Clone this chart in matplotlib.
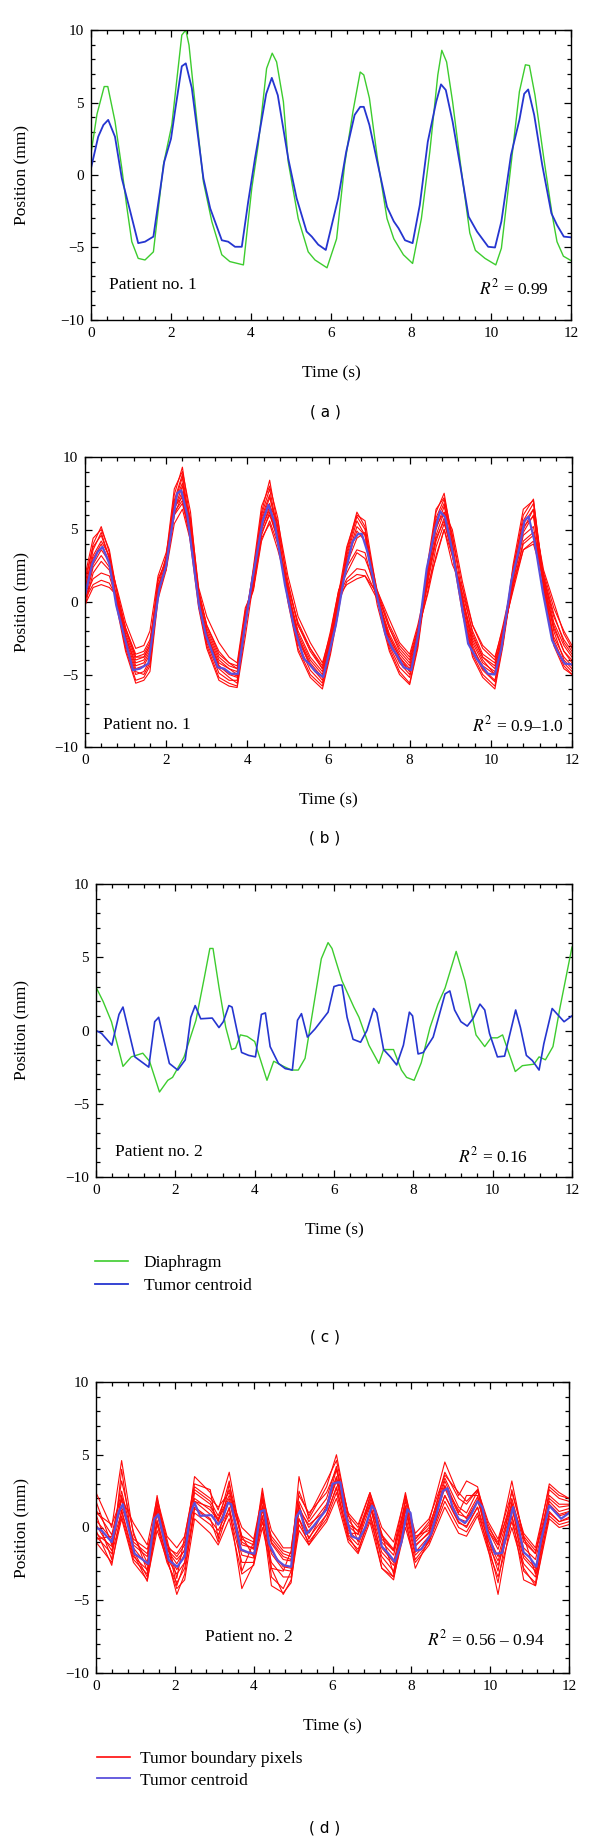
import matplotlib
matplotlib.use('Agg')
import matplotlib.pyplot as plt
from matplotlib.lines import Line2D
from matplotlib.ticker import MultipleLocator

plt.rcParams['font.family'] = ['Liberation Serif', 'DejaVu Serif']
plt.rcParams['mathtext.fontset'] = 'stix'

# Patient 1: diaphragm (green) and tumor centroid (blue)
p1_diaph_t = [0, 0.15, 0.33, 0.42, 0.6, 0.77, 0.89, 1.02, 1.18, 1.35, 1.56, 1.81, 2.02, 2.27, 2.37, 2.45,
              2.56, 2.81, 3.02, 3.27, 3.47, 3.81, 4.02, 4.18, 4.39, 4.53, 4.64, 4.81, 4.93, 5.18, 5.43,
              5.6, 5.9, 6.14, 6.34, 6.55, 6.73, 6.82, 6.96, 7.16, 7.4, 7.57, 7.81, 8.04, 8.26, 8.47, 8.67,
              8.77, 8.89, 9.04, 9.24, 9.47, 9.61, 9.85, 10.12, 10.26, 10.5, 10.71, 10.86, 10.96, 11.1,
              11.32, 11.53, 11.65, 11.81, 12.0]
p1_diaph_y = [1.5, 4.2, 6.1, 6.1, 3.7, 0.46, -2.1, -4.6, -5.75, -5.86, -5.3, 0.7, 3.45, 9.65, 10.0, 8.96,
              6.0, -0.46, -3.2, -5.5, -5.97, -6.2, -0.9, 2.07, 7.35, 8.4, 7.8, 5.05, 0.92, -3.0, -5.3,
              -5.86, -6.4, -4.4, 0.7, 4.4, 7.1, 6.9, 5.3, 1.15, -3.0, -4.4, -5.5, -6.1, -3.0, 1.6, 6.9,
              8.6, 7.8, 5.05, 0.7, -4.0, -5.2, -5.75, -6.2, -5.05, 0.7, 5.75, 7.6, 7.55, 5.5,
              1.15, -2.76, -4.6, -5.6, -5.9]

p1_cent_t = [0, 0.18, 0.31, 0.43, 0.6, 0.77, 0.98, 1.18, 1.35, 1.56, 1.83, 2.0, 2.1, 2.27, 2.37, 2.52,
             2.81, 2.98, 3.27, 3.43, 3.6, 3.77, 3.93, 4.1, 4.38, 4.52, 4.67, 4.93, 5.14, 5.39, 5.52,
             5.68, 5.87, 6.18, 6.38, 6.59, 6.73, 6.82, 6.96, 7.12, 7.4, 7.57, 7.69, 7.85, 8.04, 8.22,
             8.42, 8.63, 8.75, 8.87, 9.04, 9.24, 9.44, 9.65, 9.93, 10.1, 10.26, 10.5, 10.71, 10.83,
             10.93, 11.08, 11.28, 11.51, 11.65, 11.82, 12.0]
p1_cent_y = [0.46, 2.64, 3.45, 3.8, 2.64, -0.23, -2.5, -4.7, -4.6, -4.25, 0.9, 2.5, 4.4, 7.5, 7.7, 6.0,
             -0.23, -2.3, -4.5, -4.6, -4.95, -4.95, -1.84, 1.15, 5.6, 6.7, 5.5, 1.15, -1.6, -3.9, -4.25,
             -4.8, -5.17, -1.6, 1.6, 4.14, 4.7, 4.7, 3.45, 1.38, -2.2, -3.2, -3.68, -4.5, -4.7, -2.07,
             2.3, 5.05, 6.25, 5.86, 3.68, 0.46, -2.87, -3.9, -4.95, -5.0, -3.2, 1.38, 3.8, 5.6,
             5.9, 4.14, 0.7, -2.64, -3.45, -4.25, -4.3]

# Patient 1: tumor boundary pixels (red)
p1_pix_t = [0, 0.2, 0.4, 0.6, 0.8, 1.0, 1.25, 1.45, 1.6, 1.8, 2.0, 2.2, 2.4, 2.6, 2.8, 3.0, 3.3, 3.55,
            3.75, 3.95, 4.15, 4.35, 4.55, 4.75, 5.0, 5.25, 5.55, 5.85, 6.05, 6.25, 6.45, 6.7, 6.9, 7.2,
            7.5, 7.75, 8.0, 8.2, 8.45, 8.65, 8.85, 9.05, 9.3, 9.55, 9.8, 10.1, 10.3, 10.55, 10.8, 11.05,
            11.3, 11.55, 11.8, 12.0]
p1_pix = [
    [1.2, 4.0, 5.2, 3.4, -0.2, -3.2, -5.4, -5.2, -4.4, 0.4, 3.0, 7.4, 9.3, 5.5, -0.2, -3.0, -5.2, -5.6,
     -5.8, -1.8, 2.0, 6.2, 8.4, 5.2, 0.2, -3.2, -5.0, -5.8, -3.4, 0.0, 3.6, 6.2, 5.2, 0.2, -3.2, -4.8,
     -5.6, -3.0, 2.4, 6.2, 7.5, 4.2, -0.6, -3.6, -5.0, -5.8, -2.8, 2.2, 6.0, 7.1, 1.2, -2.8, -4.4, -5.0],
    [0.8, 3.6, 4.8, 3.0, -0.4, -3.0, -5.0, -4.8, -4.0, 0.8, 2.8, 7.0, 8.8, 5.0, 0.0, -2.8, -4.9, -5.4,
     -5.4, -1.2, 2.2, 6.0, 7.8, 4.8, 0.4, -2.9, -4.7, -5.6, -3.0, 0.2, 3.4, 5.9, 5.0, 0.4, -3.0, -4.5,
     -5.2, -2.7, 2.6, 5.8, 7.1, 4.0, -0.4, -3.4, -4.7, -5.5, -2.6, 2.4, 5.6, 6.8, 1.4, -2.6, -4.2, -4.8],
    [0.4, 2.6, 3.6, 2.8, 0.8, -1.4, -3.2, -3.0, -2.0, 1.8, 3.4, 6.4, 7.6, 5.8, 1.0, -1.0, -2.8, -3.8,
     -4.2, -0.4, 0.9, 5.0, 6.6, 5.6, 1.8, -1.0, -2.8, -4.2, -2.2, 0.8, 2.6, 4.4, 4.8, 0.8, -1.2, -2.8,
     -3.6, -1.6, 1.6, 4.6, 6.2, 5.0, 1.4, -1.6, -3.2, -4.0, -1.6, 1.6, 4.8, 6.0, 2.2, 0.0, -2.2, -3.2],
    [-0.2, 1.0, 1.2, 1.0, 0.4, -1.8, -3.6, -3.4, -2.6, 0.6, 2.4, 6.0, 6.8, 4.4, 0.6, -1.6, -3.6, -4.2,
     -4.4, -0.8, 0.8, 4.2, 5.6, 4.0, 1.2, -1.6, -3.4, -4.6, -2.4, 0.4, 1.2, 1.6, 1.8, 0.6, -1.8, -3.2,
     -4.0, -2.0, 0.6, 3.2, 5.0, 3.2, 0.6, -2.0, -3.6, -4.2, -2.0, 0.8, 3.6, 4.0, 1.6, -1.0, -2.6, -3.4],
    [0.2, 1.2, 1.5, 1.3, 0.2, -2.2, -4.0, -3.8, -3.0, 0.8, 2.6, 6.6, 7.2, 4.6, 0.2, -2.0, -4.0, -4.6,
     -4.8, -1.0, 1.0, 4.8, 6.0, 4.4, 0.8, -2.0, -3.8, -4.8, -2.6, 0.4, 1.6, 2.3, 2.2, 0.4, -2.2, -3.6,
     -4.4, -2.2, 0.8, 3.8, 5.4, 3.6, 0.2, -2.4, -3.8, -4.6, -2.2, 1.0, 4.2, 4.8, 1.8, -1.4, -3.0, -3.8],
    [0.6, 3.0, 4.0, 2.8, -0.3, -2.6, -4.6, -4.4, -3.6, 0.8, 2.6, 6.4, 8.0, 4.8, 0.0, -2.4, -4.4, -4.9,
     -5.1, -1.4, 1.8, 5.3, 6.8, 4.4, 0.4, -2.6, -4.4, -5.2, -2.9, -0.2, 2.8, 4.9, 4.2, 0.3, -2.6, -4.0,
     -4.8, -2.4, 2.3, 5.2, 6.2, 3.8, -0.2, -3.2, -4.4, -5.0, -2.4, 2.0, 5.2, 5.9, 1.0, -2.4, -3.8, -4.4],
    [1.6, 3.8, 4.6, 3.0, -0.6, -3.4, -5.6, -5.4, -4.8, 0.2, 2.2, 6.8, 8.6, 4.0, -0.4, -3.2, -5.4, -5.8,
     -5.9, -2.4, 1.4, 5.8, 7.4, 4.6, 0.0, -3.4, -5.2, -6.0, -3.6, -0.6, 3.2, 5.6, 4.6, -0.2, -3.4, -5.0,
     -5.7, -3.2, 2.0, 5.6, 6.8, 3.4, -0.8, -3.8, -5.2, -6.0, -3.0, 1.8, 5.4, 6.4, 0.8, -3.0, -4.6, -5.0],
    [-0.3, 2.0, 2.8, 2.2, 0.2, -2.0, -3.8, -3.6, -2.8, 1.2, 2.2, 5.4, 6.4, 4.2, 0.8, -1.8, -3.8, -4.4,
     -4.6, -0.6, 1.0, 4.4, 5.4, 3.6, 1.0, -1.4, -3.2, -4.4, -2.0, 0.8, 2.0, 3.4, 3.0, 0.8, -1.6, -3.0,
     -3.8, -1.8, 1.2, 3.0, 5.0, 2.6, 1.0, -1.6, -3.0, -3.8, -1.8, 1.2, 3.6, 4.2, 2.0, -0.4, -2.0, -3.0],
    [1.8, 4.4, 5.0, 3.6, 0.4, -2.8, -4.8, -5.0, -4.2, 1.0, 3.2, 7.8, 9.0, 6.2, 0.6, -2.6, -4.6, -5.2,
     -5.6, -1.6, 2.4, 6.6, 8.0, 5.8, 0.8, -2.4, -4.4, -5.4, -3.2, 0.6, 3.8, 6.0, 5.6, 0.6, -2.8, -4.2,
     -5.0, -2.8, 2.8, 6.4, 7.2, 4.6, 0.4, -3.0, -4.6, -5.4, -2.8, 2.6, 6.4, 7.0, 1.6, -2.0, -4.0, -4.6],
    [0.0, 2.4, 3.2, 2.4, -0.2, -2.4, -4.2, -4.0, -3.2, 1.6, 2.8, 6.2, 7.0, 4.4, 0.2, -2.2, -4.2, -4.6,
     -5.0, -1.0, 1.4, 4.6, 6.2, 4.2, 0.6, -2.2, -4.0, -5.0, -2.6, 0.2, 2.4, 3.6, 3.4, 0.2, -2.4, -3.8,
     -4.6, -2.6, 1.8, 4.4, 5.6, 3.2, 0.0, -2.8, -4.2, -4.8, -2.6, 1.4, 4.6, 5.2, 1.2, -1.8, -3.4, -4.2],
    [1.0, 3.2, 4.2, 3.2, 0.6, -1.8, -3.8, -3.8, -3.0, 1.4, 3.0, 6.8, 8.2, 5.4, 0.8, -1.6, -3.4, -4.2,
     -4.6, -0.8, 1.6, 5.6, 7.2, 5.2, 1.4, -1.6, -3.2, -4.6, -2.4, 0.6, 3.0, 5.2, 4.6, 0.6, -1.8, -3.4,
     -4.2, -2.0, 2.0, 5.0, 6.6, 4.6, 1.0, -2.2, -3.8, -4.4, -2.0, 1.8, 5.0, 6.4, 1.8, -0.8, -2.8, -3.6],
    [0.3, 1.6, 2.0, 1.8, 0.0, -2.4, -4.4, -4.2, -3.4, 0.4, 2.4, 6.0, 7.4, 4.6, 0.4, -2.2, -4.4, -5.0,
     -5.2, -1.2, 1.2, 5.0, 6.4, 4.4, 0.6, -2.4, -4.2, -5.2, -2.8, 0.0, 1.4, 1.9, 1.8, 0.2, -2.4, -3.8,
     -4.8, -2.4, 1.4, 4.2, 5.8, 3.4, 0.2, -2.6, -4.0, -5.0, -2.4, 1.2, 4.0, 4.6, 1.4, -1.6, -3.4, -4.0],
]

# Patient 2: diaphragm (green) and tumor centroid (blue)
p2_diaph_t = [0, 0.18, 0.39, 0.68, 0.89, 1.18, 1.35, 1.6, 1.81, 1.93, 2.22, 2.52, 2.73, 2.87, 2.95, 3.1,
              3.27, 3.42, 3.52, 3.64, 3.81, 4.0, 4.31, 4.48, 4.73, 4.93, 5.1, 5.27, 5.68, 5.85, 5.95,
              6.2, 6.5, 6.63, 6.88, 7.13, 7.25, 7.5, 7.7, 7.83, 8.02, 8.2, 8.42, 8.62, 8.8, 9.08, 9.3,
              9.58, 9.8, 9.96, 10.12, 10.25, 10.57, 10.75, 11.04, 11.17, 11.33, 11.52, 11.7, 12.0]
p2_diaph_y = [2.96, 1.98, 0.6, -2.45, -1.8, -1.55, -2.1, -4.2, -3.4, -3.2, -1.8, 0.7, 3.6, 5.6, 5.6, 2.96,
              0.23, -1.3, -1.2, -0.3, -0.4, -0.75, -3.4, -2.1, -2.45, -2.7, -2.7, -1.9, 4.9, 6.0, 5.6,
              3.4, 1.6, 0.9, -1.0, -2.25, -1.3, -1.3, -2.7, -3.2, -3.4, -2.2, 0.2, 1.8, 2.9, 5.4, 3.4,
              -0.3, -1.1, -0.5, -0.5, -0.3, -2.8, -2.4, -2.3, -1.8, -2.0, -1.1, 1.6, 5.7]

p2_cent_t = [0, 0.14, 0.4, 0.58, 0.68, 0.98, 1.18, 1.33, 1.48, 1.58, 1.85, 2.06, 2.25, 2.39, 2.5, 2.64,
             2.93, 3.1, 3.21, 3.35, 3.43, 3.67, 3.85, 4.02, 4.17, 4.27, 4.39, 4.6, 4.77, 4.95, 5.08,
             5.18, 5.33, 5.52, 5.85, 6.0, 6.12, 6.2, 6.33, 6.48, 6.67, 6.83, 7.0, 7.08, 7.25, 7.42,
             7.58, 7.75, 7.9, 7.98, 8.12, 8.25, 8.5, 8.8, 8.92, 9.04, 9.2, 9.36, 9.5, 9.68, 9.8, 9.92,
             10.12, 10.3, 10.58, 10.7, 10.85, 11.0, 11.17, 11.29, 11.5, 11.7, 11.8, 12.0]
p2_cent_y = [0, -0.2, -1.0, 1.1, 1.6, -1.8, -2.2, -2.5, 0.6, 0.9, -2.25, -2.7, -2.0, 0.9, 1.7, 0.8,
             0.85, 0.2, 0.6, 1.7, 1.6, -1.5, -1.7, -1.8, 1.1, 1.2, -1.1, -2.25, -2.6, -2.7, 0.7,
             1.15, -0.45, 0.1, 1.25, 3.0, 3.1, 3.1, 0.9, -0.6, -0.8, 0, 1.5, 1.2, -1.3, -1.8,
             -2.35, -1.0, 1.25, 1.0, -1.6, -1.5, -0.45, 2.5, 2.7, 1.4, 0.6, 0.3, 0.8, 1.8, 1.4, -0.2,
             -1.8, -1.75, 1.4, 0.2, -1.7, -2.05, -2.7, -0.9, 1.5, 0.9, 0.6, 1.0]

# Patient 2: tumor boundary pixels (red)
p2_pix_t = [0, 0.4, 0.65, 0.95, 1.3, 1.55, 1.8, 2.05, 2.25, 2.5, 2.9, 3.1, 3.38, 3.7, 4.0, 4.22, 4.45,
            4.75, 4.95, 5.15, 5.4, 5.85, 6.1, 6.4, 6.65, 6.95, 7.25, 7.55, 7.85, 8.1, 8.45, 8.85, 9.2,
            9.4, 9.68, 9.95, 10.2, 10.55, 10.85, 11.15, 11.5, 11.75, 12.0]
p2_pix = [
    [1.2, -0.5, 2.5, -1.0, -1.8, 1.6, -1.2, -2.0, -1.2, 2.6, 1.8, 0.8, 2.6, -0.8, -1.2, 2.0, -0.8, -1.8,
     -2.0, 1.8, 0.4, 2.0, 4.2, 0.5, -0.3, 2.0, -0.8, -1.6, 1.8, -1.0, 0.0, 3.4, 1.4, 1.0, 2.5, 0.2, -1.2,
     2.0, -1.0, -1.8, 2.2, 1.6, 1.6],
    [-0.6, -1.8, 0.8, -2.2, -3.2, 0.2, -2.4, -3.8, -2.8, 1.0, 0.2, -0.5, 1.0, -2.4, -2.4, 0.4, -2.4, -3.4,
     -3.4, 0.2, -1.0, 0.6, 2.4, -0.8, -1.5, 0.6, -2.0, -3.0, 0.4, -2.2, -1.0, 1.8, 0.0, -0.3, 1.0, -1.2,
     -2.6, 0.4, -2.5, -3.4, 0.8, 0.2, 0.4],
    [2.4, 0.0, 4.6, -0.5, -2.4, 2.2, -1.5, -2.5, -1.5, 3.5, 2.4, 1.2, 3.8, -1.0, -1.5, 2.7, -1.0, -2.0,
     -2.2, 3.5, 0.6, 2.8, 5.0, 0.8, 0.0, 2.4, -0.5, -1.5, 2.4, -0.8, 0.4, 4.5, 2.2, 3.2, 2.8, -0.2, -1.2,
     3.2, -0.8, -1.8, 3.0, 2.4, 2.0],
    [-0.2, -2.6, 1.2, -1.8, -3.7, 0.4, -2.0, -4.6, -3.2, 1.4, 0.6, -1.0, 1.4, -4.2, -2.5, 0.8, -4.0, -4.5,
     -3.8, 0.6, -1.2, 0.9, 2.8, -0.6, -1.7, 1.0, -2.8, -3.6, 0.6, -2.8, -0.8, 2.2, 0.4, 0.0, 1.4, -1.5,
     -4.6, 0.8, -3.6, -4.0, 1.0, 0.4, 0.6],
    [0.5, -0.8, 1.9, -1.2, -2.0, 1.2, -1.5, -2.2, -1.6, 2.0, 1.2, 0.5, 2.0, -1.2, -1.4, 1.5, -1.1, -2.2,
     -2.3, 1.4, 0.0, 1.6, 3.5, 0.1, -0.5, 1.6, -1.0, -1.9, 1.4, -1.3, -0.3, 2.9, 0.9, 0.7, 2.1, -0.2,
     -1.5, 1.5, -1.4, -2.2, 1.8, 1.1, 1.3],
    [-0.4, -1.3, 1.1, -2.0, -2.9, 0.5, -2.1, -3.2, -2.4, 1.3, 0.5, -0.2, 1.3, -1.9, -2.1, 0.8, -1.8, -2.9,
     -3.0, 0.6, -0.7, 0.9, 2.7, -0.5, -1.2, 0.9, -1.7, -2.6, 0.8, -1.9, -0.9, 2.2, 0.3, 0.1, 1.4, -0.9,
     -2.3, 0.8, -2.1, -3.0, 1.1, 0.4, 0.7],
    [1.8, -1.2, 3.2, -0.3, -3.0, 1.8, -0.8, -3.5, -0.6, 3.0, 2.6, -0.8, 3.0, -0.6, -2.0, 2.4, -2.8, -3.0,
     -1.6, 2.5, 0.8, 3.2, 4.6, 0.9, -1.0, 2.2, -0.4, -3.2, 2.0, -0.6, -0.2, 3.8, 2.0, 1.6, 2.6, -0.8,
     -3.0, 2.6, -0.6, -3.2, 2.6, 2.0, 1.8],
    [0.9, -2.2, 4.0, -1.6, -3.4, 1.4, -1.0, -4.0, -2.4, 2.4, 1.6, 0.4, 3.2, -3.0, -1.0, 1.9, -3.4, -4.2,
     -3.0, 1.6, -0.8, 1.5, 4.0, -0.4, -0.4, 1.8, -2.4, -3.4, 1.2, -1.2, -0.4, 3.2, 1.0, 2.2, 2.2, -1.2,
     -3.8, 1.8, -3.0, -3.8, 2.0, 1.4, 1.5],
    [-0.8, -0.6, 1.4, -0.8, -1.5, 1.0, -1.4, -1.8, -1.0, 1.8, 1.4, 0.6, 2.2, -0.6, -1.0, 1.4, -0.6, -1.6,
     -1.8, 1.2, 0.2, 1.2, 3.4, 0.2, -0.2, 1.5, -0.6, -1.6, 1.5, -0.8, 0.2, 2.8, 1.2, 0.6, 1.8, 0.0, -1.0,
     1.6, -0.6, -1.6, 1.5, 0.8, 1.0],
    [0.2, -1.6, 2.2, -1.4, -2.6, 0.9, -1.7, -2.9, -1.8, 1.8, 0.9, 0.2, 1.8, -1.6, -1.9, 1.2, -1.6, -2.7,
     -2.8, 1.1, -0.4, 1.3, 3.2, -0.2, -0.9, 1.4, -1.4, -2.4, 1.2, -1.7, -0.6, 2.7, 0.6, 0.4, 1.9, -0.6,
     -2.0, 1.3, -1.9, -2.8, 1.6, 0.9, 1.1],
    [1.0, 0.2, 2.0, 0.3, -1.2, 2.0, -0.6, -1.4, -0.6, 2.8, 2.0, 1.4, 2.4, 0.0, -0.8, 2.2, -0.2, -1.4,
     -1.4, 2.2, 1.0, 2.4, 4.0, 1.0, 0.2, 2.4, 0.0, -1.0, 2.2, -0.4, 0.6, 3.6, 2.4, 1.8, 2.6, 0.4, -0.8,
     2.4, -0.4, -1.4, 2.8, 2.2, 2.0],
    [-1.0, -2.4, 0.6, -2.4, -3.6, -0.2, -2.2, -4.2, -3.6, 0.6, -0.4, -1.2, 0.6, -3.2, -2.6, 0.0, -2.8,
     -4.6, -3.6, -0.2, -1.2, 0.4, 2.0, -1.0, -1.8, 0.4, -2.8, -3.4, 0.0, -2.4, -1.2, 1.4, -0.4, -0.6,
     0.8, -1.6, -3.4, 0.0, -2.8, -4.0, 0.6, 0.0, 0.2],
]

panel_notes = [('Patient no. 1', r'$R^2$ = 0.99'),
               ('Patient no. 1', r'$R^2$ = 0.9–1.0'),
               ('Patient no. 2', r'$R^2$ = 0.16'),
               ('Patient no. 2', r'$R^2$ = 0.56 – 0.94')]
panel_tags = ['( a )', '( b )', '( c )', '( d )']

GREEN = '#3dcc2e'
BLUE = '#2535d0'
CENT = '#5a50dc'
RED = '#ff0a0a'

W, H = 600, 1845
fig = plt.figure(figsize=(W / 100, H / 100), dpi=100)


def make_axes(left, top, right, bottom):
    ax = fig.add_axes([left / W, 1 - bottom / H, (right - left) / W, (bottom - top) / H])
    ax.set_xlim(0, 12)
    ax.set_ylim(-10, 10)
    ax.xaxis.set_major_locator(MultipleLocator(2))
    ax.xaxis.set_minor_locator(MultipleLocator(0.4))
    ax.yaxis.set_major_locator(MultipleLocator(5))
    ax.yaxis.set_minor_locator(MultipleLocator(1))
    ax.tick_params(which='both', direction='in', top=True, right=True, labelsize=11, width=0.9)
    ax.tick_params(which='major', length=5, pad=5)
    ax.tick_params(which='minor', length=2.8)
    for s in ax.spines.values():
        s.set_linewidth(1.0)
    h = bottom - top
    ax.set_xlabel('Time (s)', fontsize=12.5)
    ax.xaxis.set_label_coords(0.5, -45 / h)
    ax.set_ylabel('Position (mm)', fontsize=12.5)
    ax.yaxis.set_label_coords((30 - left) / (right - left), 0.5)
    return ax


boxes = [(91, 30, 571, 320), (85, 457, 572, 747), (96, 884, 572, 1177), (96, 1382, 569, 1673)]
axs = [make_axes(*b) for b in boxes]

# (a)
axs[0].plot(p1_diaph_t, p1_diaph_y, color=GREEN, lw=1.0)
axs[0].plot(p1_cent_t, p1_cent_y, color=BLUE, lw=1.3)

# (b)
for tr in p1_pix:
    axs[1].plot(p1_pix_t, tr, color=RED, lw=0.8)
axs[1].plot(p1_cent_t, p1_cent_y, color=CENT, lw=1.6)

# (c)
axs[2].plot(p2_diaph_t, p2_diaph_y, color=GREEN, lw=1.0)
axs[2].plot(p2_cent_t, p2_cent_y, color=BLUE, lw=1.2)

# (d)
for tr in p2_pix:
    axs[3].plot(p2_pix_t, tr, color=RED, lw=0.8)
axs[3].plot(p2_cent_t, p2_cent_y, color=CENT, lw=1.6)

note_pos = [((0.45, -7.6), (11.45, -7.8)),
            ((0.45, -8.5), (11.8, -8.5)),
            ((0.48, -8.3), (10.9, -8.6)),
            ((2.77, -7.5), (11.4, -7.7))]
for ax, (pt, rt), ((px, py), (rx, ry)) in zip(axs, panel_notes, note_pos):
    ax.text(px, py, pt, fontsize=12.5, ha='left', va='center')
    ax.text(rx, ry, rt, fontsize=12.5, ha='right', va='center')

for tag, yc in zip(panel_tags, [412, 838, 1337, 1828]):
    fig.text(325 / W, 1 - yc / H, tag, fontsize=11, family='DejaVu Sans', ha='center', va='center')

# legends below (c) and (d)
leg_c = [Line2D([], [], color=GREEN, lw=1.2), Line2D([], [], color=BLUE, lw=1.3)]
fig.legend(leg_c, ['Diaphragm', 'Tumor centroid'], loc='upper left',
           bbox_to_anchor=(95 / W, 1 - 1255 / H), frameon=False, fontsize=12.5,
           handlelength=1.9, handletextpad=0.9, labelspacing=0.4, borderpad=0, borderaxespad=0)
leg_d = [Line2D([], [], color=RED, lw=1.2), Line2D([], [], color=CENT, lw=1.3)]
fig.legend(leg_d, ['Tumor boundary pixels', 'Tumor centroid'], loc='upper left',
           bbox_to_anchor=(97 / W, 1 - 1751 / H), frameon=False, fontsize=12.5,
           handlelength=1.9, handletextpad=0.6, labelspacing=0.3, borderpad=0, borderaxespad=0)

fig.savefig('out.png', dpi=100)
plt.close(fig)
